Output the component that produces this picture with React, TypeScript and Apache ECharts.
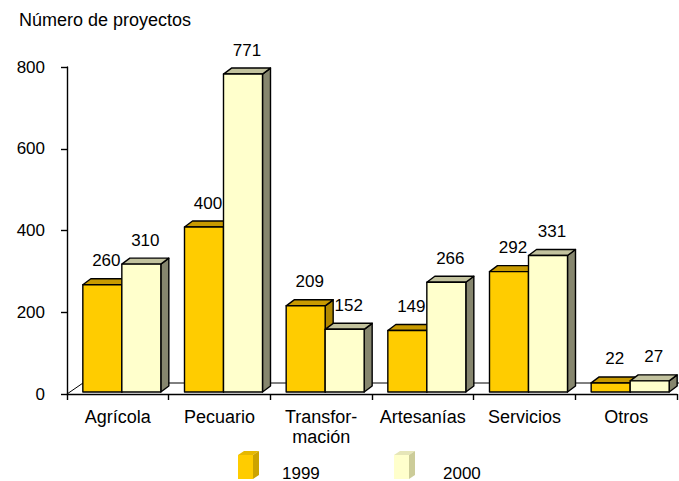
import React, { useEffect, useRef } from "react";
import * as echarts from "echarts";

const categories = ["Agrícola", "Pecuario", "Transfor-\nmación", "Artesanías", "Servicios", "Otros"];
const seriesNames = ["1999", "2000"];
const values1999 = [260, 400, 209, 149, 292, 22];
const values2000 = [310, 771, 152, 266, 331, 27];
const yMin = 0;
const yMax = 800;
const yInterval = 200;
const yAxisTitle = "Número de proyectos";

const FONT = "'Liberation Sans', Arial, Helvetica, sans-serif";
const palettes = [
  { front: "#FFCC00", top: "#C89A00", side: "#B08800", legendSide: "#CCA300", legendTop: "#E6B800" },
  { front: "#FFFFCC", top: "#C2C29E", side: "#86866E", legendSide: "#CCCC99", legendTop: "#E6E6B8" },
];
const DX = 8;
const DY = -6;
const BAR_W = 39;
const SHIFT_X = 4;
const SHIFT_Y = -2;

function makeRender(sIdx: number) {
  return (params: any, api: any) => {
    const cat = api.value(0);
    const val = api.value(1);
    const base = api.coord([cat, 0]);
    const topPt = api.coord([cat, val]);
    const cx = base[0] + SHIFT_X;
    const x0 = sIdx === 0 ? cx - BAR_W : cx;
    const x1 = x0 + BAR_W;
    const yb = base[1] + SHIFT_Y;
    const yt = topPt[1] + SHIFT_Y;
    const pal = palettes[sIdx];
    const children: any[] = [];
    if (sIdx === 0 && params.dataIndex === 0) {
      const cs = params.coordSys;
      const fx = cs.x;
      const fy = cs.y + cs.height;
      children.push({
        type: "polyline",
        shape: { points: [[fx, fy], [fx + 16, fy - 11], [fx + cs.width + 30, fy - 11]] },
        style: { stroke: "#000", lineWidth: 1, fill: "none" },
      });
    }
    const lineStyle = { stroke: "#000", lineWidth: 1.4, lineJoin: "round" };
    children.push({
      type: "polygon",
      shape: { points: [[x1, yb], [x1 + DX, yb + DY], [x1 + DX, yt + DY], [x1, yt]] },
      style: { fill: pal.side, ...lineStyle },
    });
    children.push({
      type: "polygon",
      shape: { points: [[x0, yt], [x0 + DX, yt + DY], [x1 + DX, yt + DY], [x1, yt]] },
      style: { fill: pal.top, ...lineStyle },
    });
    children.push({
      type: "rect",
      shape: { x: x0, y: yt, width: BAR_W, height: yb - yt },
      style: { fill: pal.front, ...lineStyle },
    });
    children.push({
      type: "text",
      style: {
        text: String(val),
        x: (x0 + x1) / 2 + 4,
        y: yt - 24,
        align: "center",
        verticalAlign: "middle",
        fontSize: 17,
        fontFamily: FONT,
        fill: "#000",
      },
    });
    return { type: "group", children };
  };
}

export default function App() {
  const ref = useRef<HTMLDivElement>(null);
  useEffect(() => {
    if (!ref.current) return;
    const chart = echarts.init(ref.current, undefined, { renderer: "svg" });
    const allValues = [values1999, values2000];
    const legendX = [238, 394];
    const legendTextX = [282, 443];
    const legendGraphics: any[] = [];
    seriesNames.forEach((name, i) => {
      const x = legendX[i];
      const pal = palettes[i];
      legendGraphics.push({
        type: "group",
        children: [
          { type: "polygon", shape: { points: [[x, 455], [x + 6, 451], [x + 21, 451], [x + 15, 455]] }, style: { fill: pal.legendTop } },
          { type: "polygon", shape: { points: [[x + 15, 455], [x + 21, 451], [x + 21, 475], [x + 15, 479]] }, style: { fill: pal.legendSide } },
          { type: "rect", shape: { x: x, y: 455, width: 15, height: 24 }, style: { fill: pal.front } },
          {
            type: "text",
            style: { text: name, x: legendTextX[i], y: 473, verticalAlign: "middle", fontSize: 17, fontFamily: FONT, fill: "#000" },
          },
        ],
      });
    });
    chart.setOption({
      animation: false,
      backgroundColor: "#fff",
      title: {
        text: yAxisTitle,
        left: 19,
        top: 11,
        padding: 0,
        textStyle: { fontSize: 18, fontWeight: "normal", fontFamily: FONT, color: "#000" },
      },
      grid: { left: 67, top: 67, width: 610, height: 327, containLabel: false },
      xAxis: {
        type: "category",
        data: categories,
        boundaryGap: true,
        axisLine: { show: true, lineStyle: { color: "#000", width: 1.4 } },
        axisTick: { show: true, length: 6, alignWithLabel: false, lineStyle: { color: "#000", width: 1.4 } },
        axisLabel: { margin: 13, fontSize: 18, lineHeight: 20, fontFamily: FONT, color: "#000", interval: 0 },
        splitLine: { show: false },
      },
      yAxis: [
        {
          type: "value",
          min: yMin,
          max: yMax,
          interval: yInterval,
          axisLine: { show: true, lineStyle: { color: "#000", width: 1.4 } },
          axisTick: { show: true, length: 6, lineStyle: { color: "#000", width: 1.4 } },
          axisLabel: { margin: 22, fontSize: 17, fontFamily: FONT, color: "#000" },
          splitLine: { show: false },
        },
        {
          type: "value",
          min: 0,
          max: 793,
          show: false,
          splitLine: { show: false },
        },
      ],
      series: seriesNames.map((name, sIdx) => ({
        type: "custom",
        name,
        xAxisIndex: 0,
        yAxisIndex: 1,
        renderItem: makeRender(sIdx),
        encode: { x: 0, y: 1 },
        data: allValues[sIdx].map((v, i) => [i, v]),
        z: 2 + sIdx,
      })),
      graphic: legendGraphics,
    });
    return () => chart.dispose();
  }, []);
  return <div ref={ref} style={{ position: "fixed", left: 0, top: 0, width: 679, height: 481 }} />;
}
